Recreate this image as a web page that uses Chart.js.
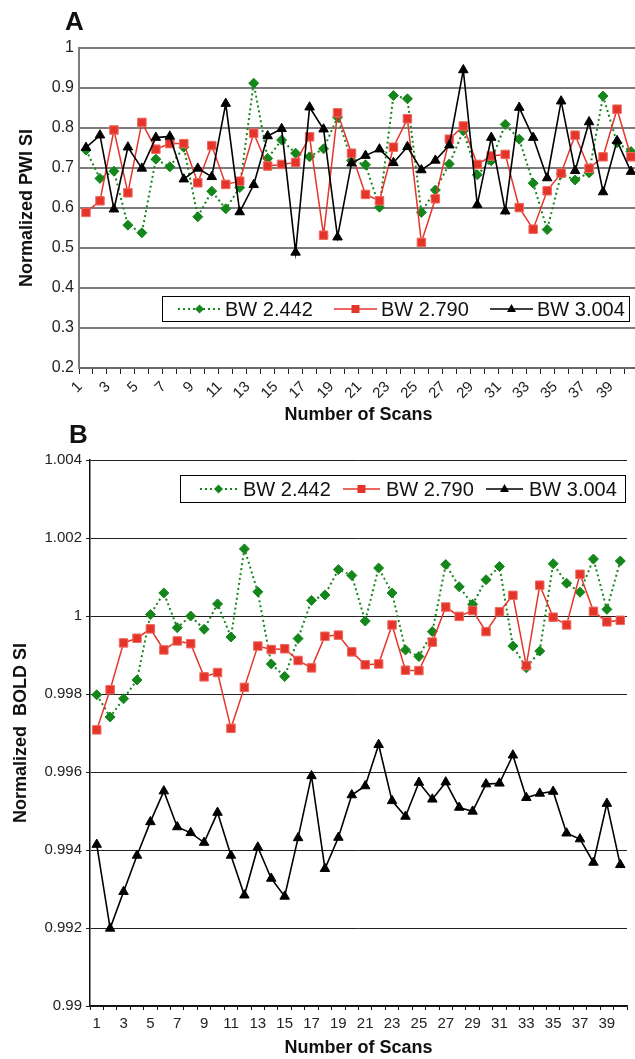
<!DOCTYPE html>
<html>
<head>
<meta charset="utf-8">
<script src="https://cdn.jsdelivr.net/npm/chart.js@4.4.1/dist/chart.umd.min.js"></script>
<style>
  html, body { margin: 0; padding: 0; background: #fff; overflow: hidden; }
  #wrap { position: relative; width: 635px; height: 1059px; overflow: hidden; }
  .panel { position: absolute; left: 0; width: 635px; }
  .letter { position: absolute; font: bold 26px "Liberation Sans", Arial, sans-serif; line-height: 26px; color: #111; }
</style>
</head>
<body>
<div id="wrap">
  <div class="panel" style="top:0;height:430px;width:645px"><canvas id="pwi"></canvas></div>
  <div class="panel" style="top:430px;height:629px"><canvas id="bold"></canvas></div>
  <div class="letter" style="left:65px;top:8px">A</div>
  <div class="letter" style="left:69px;top:421px">B</div>
</div>
<script>
const scans = ['1', '2', '3', '4', '5', '6', '7', '8', '9', '10',
    '11', '12', '13', '14', '15', '16', '17', '18', '19', '20',
    '21', '22', '23', '24', '25', '26', '27', '28', '29', '30',
    '31', '32', '33', '34', '35', '36', '37', '38', '39', '40'];

const seriesNames = ['BW 2.442', 'BW 2.790', 'BW 3.004'];

// panel A - normalized PWI SI
const pwi2442 = [0.745, 0.674, 0.692, 0.557, 0.538, 0.722, 0.703, 0.752, 0.578, 0.642,
    0.598, 0.651, 0.912, 0.724, 0.770, 0.737, 0.728, 0.748, 0.827, 0.719,
    0.708, 0.602, 0.881, 0.873, 0.589, 0.645, 0.710, 0.793, 0.683, 0.718,
    0.809, 0.772, 0.662, 0.546, 0.685, 0.670, 0.688, 0.880, 0.763, 0.741];
const pwi2790 = [0.589, 0.618, 0.795, 0.638, 0.814, 0.747, 0.761, 0.761, 0.663, 0.756,
    0.659, 0.667, 0.787, 0.705, 0.709, 0.714, 0.778, 0.532, 0.838, 0.737,
    0.634, 0.618, 0.752, 0.823, 0.514, 0.623, 0.772, 0.805, 0.709, 0.730,
    0.734, 0.601, 0.547, 0.643, 0.687, 0.782, 0.699, 0.728, 0.847, 0.728];
const pwi3004 = [0.751, 0.782, 0.597, 0.752, 0.699, 0.776, 0.779, 0.672, 0.699, 0.678,
    0.861, 0.590, 0.658, 0.780, 0.798, 0.489, 0.852, 0.797, 0.527, 0.712,
    0.731, 0.747, 0.713, 0.753, 0.695, 0.719, 0.757, 0.945, 0.608, 0.776,
    0.592, 0.851, 0.776, 0.675, 0.867, 0.693, 0.815, 0.640, 0.768, 0.691];

// panel B - normalized BOLD SI
const bold2442 = [0.99798, 0.99741, 0.99788, 0.99836, 1.00004, 1.00059, 0.99970, 1.00000, 0.99966, 1.00031,
    0.99946, 1.00172, 1.00062, 0.99877, 0.99845, 0.99942, 1.00040, 1.00054, 1.00119, 1.00104,
    0.99987, 1.00123, 1.00059, 0.99913, 0.99896, 0.99960, 1.00132, 1.00075, 1.00030, 1.00093,
    1.00127, 0.99923, 0.99867, 0.99910, 1.00134, 1.00084, 1.00061, 1.00146, 1.00017, 1.00141];
const bold2790 = [0.99708, 0.99811, 0.99931, 0.99943, 0.99967, 0.99913, 0.99936, 0.99929, 0.99844, 0.99855,
    0.99712, 0.99817, 0.99923, 0.99914, 0.99916, 0.99886, 0.99867, 0.99948, 0.99951, 0.99908,
    0.99875, 0.99877, 0.99977, 0.99861, 0.99860, 0.99933, 1.00023, 0.99999, 1.00014, 0.99960,
    1.00011, 1.00053, 0.99873, 1.00079, 0.99997, 0.99977, 1.00107, 1.00012, 0.99985, 0.99989];
const bold3004 = [0.99414, 0.99199, 0.99293, 0.99386, 0.99472, 0.99551, 0.99459, 0.99444, 0.99419, 0.99496,
    0.99386, 0.99284, 0.99407, 0.99327, 0.99281, 0.99431, 0.99590, 0.99352, 0.99432, 0.99541,
    0.99564, 0.99670, 0.99526, 0.99486, 0.99573, 0.99530, 0.99574, 0.99509, 0.99499, 0.99569,
    0.99571, 0.99643, 0.99534, 0.99545, 0.99550, 0.99443, 0.99428, 0.99368, 0.99519, 0.99362];

const FONT = '"Liberation Sans", Arial, Helvetica, sans-serif';
const GREEN = '#15861b';
const RED = '#e5352b';

function makeSets(green, red, black) {
    return [
        { label: seriesNames[0], data: green, borderColor: GREEN, borderWidth: 2, borderDash: [2, 3],
          pointStyle: 'rectRot', pointRadius: 5, pointBackgroundColor: GREEN, pointBorderColor: GREEN,
          pointBorderWidth: 1, order: 3 },
        { label: seriesNames[1], data: red, borderColor: RED, borderWidth: 1.5,
          pointStyle: 'rect', pointRadius: 6, pointBackgroundColor: RED, pointBorderColor: '#ee6a60',
          pointBorderWidth: 1, order: 2 },
        { label: seriesNames[2], data: black, borderColor: '#000', borderWidth: 1.6,
          pointStyle: 'triangle', pointRadius: 5.5, pointBackgroundColor: '#000', pointBorderColor: '#000',
          pointBorderWidth: 1, order: 1 }
    ];
}

// legend in a box inside the plot, like the original
const boxLegend = {
    id: 'boxLegend',
    afterDatasetsDraw(chart, args, o) {
        const ctx = chart.ctx;
        ctx.save();
        ctx.fillStyle = '#fff';
        ctx.fillRect(o.x, o.y, o.w, o.h);
        ctx.strokeStyle = '#000';
        ctx.lineWidth = 1;
        ctx.strokeRect(o.x + 0.5, o.y + 0.5, o.w, o.h);
        ctx.font = '20px ' + FONT;
        ctx.textBaseline = 'middle';
        const cy = o.y + o.h / 2 + 0.5;
        chart.data.datasets.forEach((ds, i) => {
            const x0 = o.x + o.padLeft + i * o.itemWidth;
            const mx = x0 + o.lineLength / 2;
            ctx.strokeStyle = ds.borderColor;
            ctx.lineWidth = ds.borderWidth;
            ctx.setLineDash(ds.borderDash || []);
            ctx.beginPath();
            ctx.moveTo(x0, cy);
            ctx.lineTo(x0 + o.lineLength, cy);
            ctx.stroke();
            ctx.setLineDash([]);
            ctx.fillStyle = ds.pointBackgroundColor;
            ctx.beginPath();
            if (ds.pointStyle === 'rectRot') {
                ctx.moveTo(mx, cy - 4.5); ctx.lineTo(mx + 4.5, cy); ctx.lineTo(mx, cy + 4.5); ctx.lineTo(mx - 4.5, cy);
            } else if (ds.pointStyle === 'rect') {
                ctx.rect(mx - 4, cy - 4, 8, 8);
            } else {
                ctx.moveTo(mx, cy - 5); ctx.lineTo(mx + 4.5, cy + 3); ctx.lineTo(mx - 4.5, cy + 3);
            }
            ctx.closePath();
            ctx.fill();
            ctx.fillStyle = '#111';
            ctx.fillText(ds.label, x0 + o.lineLength + o.gap, cy + 1);
        });
        ctx.restore();
    }
};

function oddLabels(v, i) {
    return i % 2 === 0 ? scans[i] : '';
}

new Chart(document.getElementById('pwi'), {
    type: 'line',
    data: { labels: scans, datasets: makeSets(pwi2442, pwi2790, pwi3004) },
    plugins: [boxLegend],
    options: {
        responsive: true,
        maintainAspectRatio: false,
        animation: false,
        layout: { padding: { top: 48, right: 0, bottom: 0, left: 0 } },
        plugins: {
            legend: { display: false },
            tooltip: { enabled: false },
            boxLegend: { x: 162, y: 296, w: 467, h: 25, padLeft: 16, itemWidth: 156, lineLength: 43, gap: 4 }
        },
        scales: {
            x: {
                offset: true,
                grid: { offset: true, drawOnChartArea: false, drawTicks: true, tickLength: 6, color: '#222', lineWidth: 1 },
                border: { color: '#666', width: 2 },
                ticks: { autoSkip: false, minRotation: 45, maxRotation: 45, padding: 4, labelOffset: -6, color: '#222',
                    font: { family: FONT, size: 15 }, callback: oddLabels },
                title: { display: true, text: 'Number of Scans', color: '#111',
                    font: { family: FONT, size: 18, weight: 'bold' }, padding: { top: 0, bottom: 4 } },
                afterFit: s => { s.height = 62; s.paddingLeft = 0; s.paddingRight = 0; }
            },
            y: {
                min: 0.2,
                max: 1,
                ticks: { stepSize: 0.1, padding: 5, color: '#222', font: { family: FONT, size: 16 },
                    callback: v => String(+v.toFixed(1)) },
                grid: { color: '#7c7c7c', lineWidth: 2, drawTicks: false },
                border: { color: '#7c7c7c', width: 2 },
                title: { display: true, text: 'Normalized PWI SI', color: '#111',
                    font: { family: FONT, size: 18, weight: 'bold' }, padding: { top: 16, bottom: 0 } },
                afterFit: s => { s.width = 79; }
            }
        }
    }
});

new Chart(document.getElementById('bold'), {
    type: 'line',
    data: { labels: scans, datasets: makeSets(bold2442, bold2790, bold3004) },
    plugins: [boxLegend],
    options: {
        responsive: true,
        maintainAspectRatio: false,
        animation: false,
        layout: { padding: { top: 30, right: 8, bottom: 0, left: 0 } },
        plugins: {
            legend: { display: false },
            tooltip: { enabled: false },
            boxLegend: { x: 180, y: 45, w: 445, h: 27, padLeft: 20, itemWidth: 143, lineLength: 37, gap: 6 }
        },
        scales: {
            x: {
                offset: true,
                grid: { offset: true, drawOnChartArea: false, drawTicks: true, tickLength: 4, color: '#111', lineWidth: 1 },
                border: { color: '#111', width: 1.5 },
                ticks: { autoSkip: false, minRotation: 0, maxRotation: 0, padding: 5, color: '#222',
                    font: { family: FONT, size: 15 }, callback: oddLabels },
                title: { display: true, text: 'Number of Scans', color: '#111',
                    font: { family: FONT, size: 18, weight: 'bold' }, padding: { top: 0, bottom: 0 } },
                afterFit: s => { s.height = 53; s.paddingLeft = 0; s.paddingRight = 0; }
            },
            y: {
                min: 0.99,
                max: 1.004,
                ticks: { stepSize: 0.002, padding: 4, color: '#222', font: { family: FONT, size: 15 },
                    callback: v => String(+v.toFixed(3)) },
                grid: { color: '#222', lineWidth: 1, drawTicks: true, tickLength: 4 },
                border: { color: '#111', width: 1.5 },
                title: { display: true, text: 'Normalized  BOLD SI', color: '#111',
                    font: { family: FONT, size: 18, weight: 'bold' }, padding: { top: 10, bottom: 0 } },
                afterFit: s => { s.width = 90; }
            }
        }
    }
});
</script>
</body>
</html>
